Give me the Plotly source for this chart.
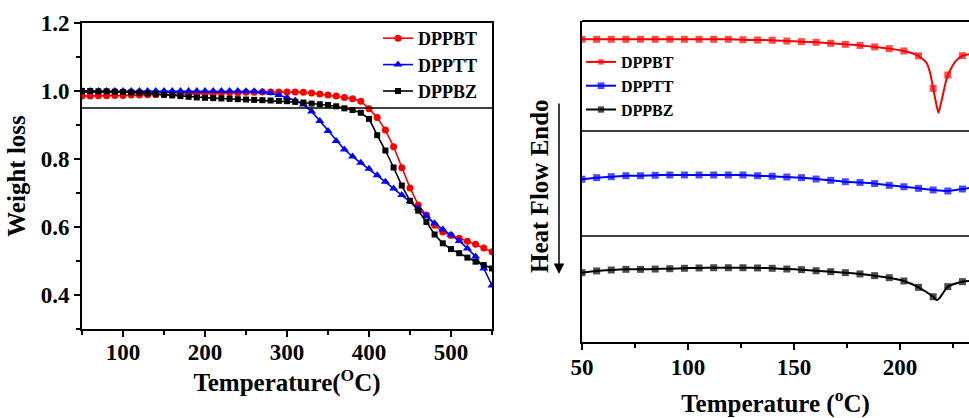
import plotly.graph_objects as go

# ---------------- TGA data (left) ----------------
tga_T = [50, 60, 70, 80, 90, 100, 110, 120, 130, 140, 150, 160, 170, 180, 190, 200,
         210, 220, 230, 240, 250, 260, 270, 280, 290, 300, 310, 320, 330, 340, 350,
         360, 370, 380, 390, 400, 410, 420, 430, 440, 450, 460, 470, 480, 490, 500,
         510, 520, 530, 540, 550]
tga_dppbt = [0.985, 0.985, 0.986, 0.986, 0.987, 0.987, 0.988, 0.988, 0.989, 0.989,
             0.990, 0.990, 0.991, 0.991, 0.992, 0.993, 0.993, 0.994, 0.995, 0.995,
             0.996, 0.996, 0.997, 0.997, 0.997, 0.997, 0.997, 0.996, 0.994, 0.991,
             0.988, 0.985, 0.981, 0.977, 0.970, 0.948, 0.922, 0.885, 0.836, 0.774,
             0.715, 0.665, 0.635, 0.605, 0.585, 0.575, 0.567, 0.558, 0.549, 0.538, 0.527]
tga_dpptt = [1.000, 1.000, 1.000, 1.000, 1.000, 1.000, 1.000, 1.000, 1.000, 1.000,
             1.000, 1.000, 1.000, 1.000, 1.000, 1.000, 1.000, 1.000, 1.000, 1.000,
             0.999, 0.999, 0.998, 0.994, 0.988, 0.981, 0.972, 0.960, 0.940, 0.912,
             0.882, 0.853, 0.828, 0.807, 0.789, 0.771, 0.752, 0.733, 0.713, 0.694,
             0.676, 0.655, 0.632, 0.611, 0.593, 0.577, 0.559, 0.537, 0.513, 0.478, 0.428]
tga_dppbz = [1.000, 1.000, 0.999, 0.999, 0.998, 0.997, 0.996, 0.995, 0.993, 0.991,
             0.989, 0.987, 0.985, 0.983, 0.981, 0.980, 0.979, 0.978, 0.977, 0.976,
             0.975, 0.974, 0.973, 0.972, 0.971, 0.970, 0.968, 0.966, 0.963, 0.961,
             0.959, 0.955, 0.949, 0.944, 0.936, 0.918, 0.870, 0.825, 0.775, 0.722,
             0.677, 0.648, 0.615, 0.578, 0.552, 0.535, 0.523, 0.510, 0.498, 0.488, 0.478]
tga_threshold = 0.95

# ---------------- DSC data (right, stacked, a.u.) ----------------
dsc_T = [50, 56.9, 63.8, 70.7, 77.6, 84.5, 91.4, 98.3, 105.2, 112.1, 119, 125.9, 132.8,
         139.7, 146.6, 153.5, 160.4, 167.3, 174.2, 181.1, 188, 194.9, 201.8, 208.7,
         215.6, 222.5, 229.4]
dsc_dppbt = [2.829, 2.829, 2.829, 2.829, 2.829, 2.829, 2.829, 2.829, 2.829, 2.829, 2.829,
             2.825, 2.822, 2.820, 2.813, 2.807, 2.801, 2.792, 2.782, 2.772, 2.758, 2.742,
             2.720, 2.675, 2.371, 2.495, 2.676]
dsc_dpptt = [1.521, 1.536, 1.545, 1.554, 1.554, 1.558, 1.561, 1.561, 1.561, 1.561, 1.561,
             1.561, 1.554, 1.549, 1.542, 1.536, 1.523, 1.511, 1.498, 1.491, 1.481, 1.464,
             1.451, 1.436, 1.421, 1.411, 1.430]
dsc_dppbz = [0.648, 0.664, 0.673, 0.679, 0.679, 0.682, 0.685, 0.689, 0.692, 0.694, 0.694,
             0.694, 0.692, 0.689, 0.682, 0.676, 0.666, 0.657, 0.648, 0.636, 0.620, 0.601,
             0.570, 0.511, 0.423, 0.517, 0.564]
# extra (unmarked) curve points: melting dips and right edge
dppbt_extra_T = [212.6, 214.2, 217.0, 218.1, 219.3, 221.2, 226.0, 232.5]
dppbt_extra_hf = [2.605, 2.511, 2.231, 2.143, 2.231, 2.402, 2.620, 2.690]
dpptt_extra_T = [232.5]
dpptt_extra_hf = [1.440]
dppbz_extra_T = [217.3, 218.6, 232.5]
dppbz_extra_hf = [0.392, 0.410, 0.570]

names = ["DPPBT", "DPPTT", "DPPBZ"]
colors = ["#ff0000", "#0000ff", "#000000"]

W, H = 969, 418
FONT = "Liberation Serif"

fig = go.Figure()

# TGA traces
for name, ys, col, sym, ms in zip(names, [tga_dppbt, tga_dpptt, tga_dppbz], colors,
                                   ["circle", "triangle-up", "square"], [7, 8, 6]):
    fig.add_trace(go.Scatter(
        x=tga_T, y=ys, mode="lines+markers", name=name,
        line=dict(color=col, width=1.6),
        marker=dict(symbol=sym, size=ms, color=col, line=dict(width=0)),
        xaxis="x", yaxis="y", legend="legend"))

# DSC traces
def merged(mt, mv, et, ev):
    pts = sorted([(t, v, True) for t, v in zip(mt, mv)] + [(t, v, False) for t, v in zip(et, ev)])
    return [p[0] for p in pts], [p[1] for p in pts], [7 if p[2] else 0 for p in pts]

for name, mv, et, ev, col in zip(names,
                                 [dsc_dppbt, dsc_dpptt, dsc_dppbz],
                                 [dppbt_extra_T, dpptt_extra_T, dppbz_extra_T],
                                 [dppbt_extra_hf, dpptt_extra_hf, dppbz_extra_hf],
                                 colors):
    xs, ys, sz = merged(dsc_T, mv, et, ev)
    fig.add_trace(go.Scatter(
        x=xs, y=ys, mode="lines+markers", name=name,
        line=dict(color=col, width=2, shape="spline", smoothing=0.6),
        marker=dict(symbol="square", size=sz, color=col, line=dict(width=0)),
        xaxis="x2", yaxis="y2", legend="legend2"))

# domains from pixel geometry
def px(x):
    return x / W

def py(y):
    return 1 - y / H

axis_common = dict(showgrid=False, zeroline=False, showline=True, linecolor="black",
                   linewidth=2, ticks="outside", tickcolor="black", tickwidth=2,
                   ticklen=6, automargin=False,
                   tickfont=dict(family=FONT, size=23, color="black", weight="bold"))
title_font = dict(family=FONT, size=25, color="black", weight="bold")
legend_font = dict(family=FONT, size=18, color="black", weight="bold")

fig.update_layout(
    width=W, height=H, margin=dict(l=0, r=0, t=0, b=0),
    paper_bgcolor="white", plot_bgcolor="white",
    font=dict(family=FONT, size=23, color="black", weight="bold"),
    xaxis=dict(**axis_common, domain=[px(82), px(492)], range=[50, 550],
               dtick=100, tick0=0, mirror=True, ticklabelstandoff=-5,
               minor=dict(dtick=50, tick0=0, ticks="outside", ticklen=4, tickwidth=2, tickcolor="black"),
               title=dict(text="Temperature(<sup>O</sup>C)", standoff=0, font=title_font),
               anchor="y"),
    yaxis=dict(**axis_common, domain=[py(329), py(23)], range=[0.3, 1.2],
               dtick=0.2, tick0=0, tickformat=".1f", mirror=True,
               minor=dict(dtick=0.1, tick0=0, ticks="outside", ticklen=4, tickwidth=2, tickcolor="black"),
               title=dict(text="Weight loss", standoff=8, font=title_font),
               anchor="x"),
    xaxis2=dict(**axis_common, domain=[px(582), 1.0], range=[50, 232.5],
                dtick=50, tick0=0, ticklabelstandoff=-3,
                minor=dict(dtick=25, tick0=0, ticks="outside", ticklen=4, tickwidth=2, tickcolor="black"),
                title=dict(text="Temperature (<sup>o</sup>C)", standoff=27, font=title_font),
                anchor="y2"),
    yaxis2=dict(showgrid=False, zeroline=False, showline=True, linecolor="black", linewidth=2,
                showticklabels=False, ticks="", domain=[py(342), py(21)], range=[0, 3],
                anchor="x2", automargin=False),
    legend=dict(x=px(378), y=py(20), xanchor="left", yanchor="top",
                bgcolor="rgba(0,0,0,0)", borderwidth=0, tracegroupgap=0, font=legend_font),
    legend2=dict(x=px(581), y=py(45), xanchor="left", yanchor="top",
                 bgcolor="rgba(0,0,0,0)", borderwidth=0, tracegroupgap=0,
                 font=dict(family=FONT, size=16, color="black", weight="bold")),
    showlegend=True,
)

# TGA 5% weight-loss threshold line
fig.add_shape(type="line", xref="x domain", yref="y", x0=0, x1=1,
              y0=tga_threshold, y1=tga_threshold, line=dict(color="black", width=1.5))
# DSC panel separators and top border
for yv in [0.991, 1.972]:
    fig.add_shape(type="line", xref="x2 domain", yref="y2", x0=0, x1=1, y0=yv, y1=yv,
                  line=dict(color="black", width=1.5))
fig.add_shape(type="line", xref="x2 domain", yref="y2 domain", x0=0, x1=1, y0=1, y1=1,
              line=dict(color="black", width=2))

# Heat flow label and arrow
fig.add_annotation(xref="paper", yref="paper", x=px(559), y=py(274), ax=0, ay=-172,
                   text="", showarrow=True, arrowhead=2, arrowsize=1.4, arrowwidth=1.5,
                   arrowcolor="black")
fig.add_annotation(xref="paper", yref="paper", x=px(539), y=py(186), text="Heat Flow Endo",
                   textangle=-90, showarrow=False, font=title_font)

fig.write_html("out.html")
